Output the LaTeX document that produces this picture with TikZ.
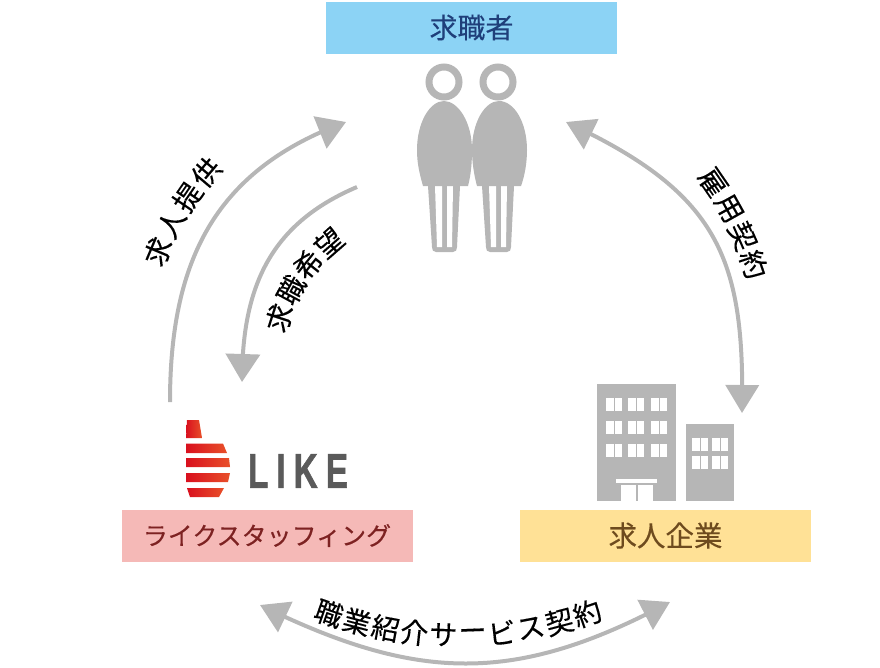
\documentclass[tikz,border=0pt]{standalone}
\usepackage{fontspec}
\setmainfont[FakeBold=0.25]{Noto Sans CJK JP}
\newfontfamily\logofont[LetterSpace=24,FakeBold=1.5]{Liberation Sans Bold}
\usetikzlibrary{arrows.meta,bending}
\definecolor{seekerblue}{HTML}{8CD3F5}
\definecolor{seekerink}{HTML}{1F3F7A}
\definecolor{likepink}{HTML}{F5B9B7}
\definecolor{likeink}{HTML}{7D2222}
\definecolor{firmyellow}{HTML}{FFE196}
\definecolor{firmink}{HTML}{6E4B1E}
\definecolor{icongray}{HTML}{B6B6B6}
\definecolor{logogray}{HTML}{5A5A5A}
\definecolor{logored}{HTML}{D9101E}
\definecolor{logoorange}{HTML}{E8502A}
\tikzstyle{titlebox}=[minimum width=291pt,minimum height=52pt,inner sep=0pt]
\tikzstyle{flow}=[draw=icongray,line width=4pt,{Triangle[length=28pt,width=34pt,flex]}-]
\tikzstyle{flowboth}=[draw=icongray,line width=4pt,{Triangle[length=28pt,width=33pt,flex]}-{Triangle[length=28pt,width=33pt,flex]}]
\tikzstyle{glyph}=[inner sep=0pt,font=\fontsize{28}{28}\selectfont]
\tikzstyle{stripe}=[left color=logored,right color=logoorange,draw=none]
\begin{document}
\begin{tikzpicture}[x=1pt,y=-1pt]
\useasboundingbox (0,0) rectangle (880,667);

% title boxes
\node (seeker) [titlebox,fill=seekerblue,text=seekerink,font=\fontsize{28}{28}\selectfont] at (471.5,27.5) {求職者};
\node (staffing) [titlebox,fill=likepink,text=likeink,font=\fontsize{25}{25}\selectfont] at (267,535.5) {ライクスタッフィング};
\node (firm) [titlebox,fill=firmyellow,text=firmink,font=\fontsize{28.5}{28.5}\selectfont] at (665.5,535.5) {求人企業};

% free ends of the arrows
\coordinate (offerstart) at (170,402);
\coordinate (offerend) at (346,122);
\coordinate (wishstart) at (357,187);
\coordinate (wishend) at (242,382);
\coordinate (hiretop) at (566,122);
\coordinate (hirebottom) at (742,413);
\coordinate (dealleft) at (260,605);
\coordinate (dealright) at (670,602);

\draw [flow] (offerend) .. controls (214,170) and (170,262) .. (offerstart);
\draw [flow] (wishend) .. controls (242,287) and (270,224) .. (wishstart);
\draw [flowboth] (hiretop) .. controls (719,193) and (745,258) .. (hirebottom);
\draw [flowboth] (dealleft) .. controls (417,682) and (515,685) .. (dealright);

% curved labels
\foreach \c [count=\i] in {求,人,提,供}
    \node (offer\i) [glyph,rotate={270-(197+\i*5.8)}] at ({440+306*cos(197+\i*5.8)},{370+306*sin(197+\i*5.8)}) {\c};
\foreach \c [count=\i] in {求,職,希,望}
    \node (wish\i) [glyph,rotate={270-(187.7+\i*10.3)}] at ({440+169*cos(187.7+\i*10.3)},{370+169*sin(187.7+\i*10.3)}) {\c};
\foreach \c [count=\i] in {雇,用,契,約}
    \node (hire\i) [glyph,rotate={270-(320.2+\i*5.3)}] at ({440+331*cos(320.2+\i*5.3)},{370+331*sin(320.2+\i*5.3)}) {\c};
\foreach \c [count=\i] in {職,業,紹,介,サ,ー,ビ,ス,契,約}
    \node (deal\i) [glyph,rotate={90-(113.2-\i*4.22)}] at ({458+397*cos(113.2-\i*4.22)},{238+397*sin(113.2-\i*4.22)}) {\c};

% two people
\foreach \dx/\name in {0/left,54/right} {
    \node (head\name) [circle,draw=icongray,line width=7pt,minimum size=30pt,inner sep=0pt] at (444+\dx,82) {};
    \fill [icongray] (428+\dx,186) -- (460+\dx,186) -- (457+\dx,247)
        .. controls (457+\dx,250) and (456+\dx,252) .. (453+\dx,252) -- (436+\dx,252)
        .. controls (433+\dx,252) and (432+\dx,250) .. (432+\dx,247) -- cycle;
    \fill [white] (435+\dx,186) -- (442+\dx,186) -- (442+\dx,247) -- (437+\dx,247) -- cycle;
    \fill [white] (447+\dx,186) -- (453+\dx,186) -- (452+\dx,247) -- (447+\dx,247) -- cycle;
}
\fill [icongray] (423,186) .. controls (419,172) and (417,162) .. (417,150)
    .. controls (417,122) and (430,101) .. (444,101)
    .. controls (458,101) and (472,122) .. (472,150)
    .. controls (472,162) and (471,175) .. (468,186) -- cycle;
\fill [icongray] (477,186) .. controls (474,175) and (472,162) .. (472,150)
    .. controls (472,122) and (485,101) .. (499,101)
    .. controls (514,101) and (527,122) .. (527,150)
    .. controls (527,162) and (525,175) .. (521,186) -- cycle;

% buildings
\fill [icongray] (597,384) rectangle (676,501);
\fill [icongray] (686,424) rectangle (734,501);
\foreach \wx in {606,628,651}
    \foreach \wy in {398,421,444} {
        \fill [white] (\wx,\wy) rectangle ++(7.5,13);
        \fill [white] (\wx+8.5,\wy) rectangle ++(7.5,13);
    }
\foreach \wx in {692,712}
    \foreach \wy in {438,456} {
        \fill [white] (\wx,\wy) rectangle ++(7.5,13);
        \fill [white] (\wx+8.5,\wy) rectangle ++(7.5,13);
    }
\fill [white] (616,479) rectangle (657,483);
\fill [white] (621,485) rectangle (636,501);
\fill [white] (638,485) rectangle (653,501);

% logo
\shade [stripe] (187,420) -- (199,420) -- (202,438) -- (186,438) -- cycle;
\shade [stripe] (186,443.5) -- (223,443.5) -- (227,453) -- (186,453) -- cycle;
\shade [stripe] (186,458) -- (229,458) -- (230,467) -- (186,467) -- cycle;
\shade [stripe] (186,473) -- (230,473) -- (228,482) -- (186,482) -- cycle;
\shade [stripe] (187,488) -- (224,488) -- (219,497) -- (190,497) -- cycle;
\node (logotext) [anchor=west,inner sep=0pt,text=logogray,xscale=0.68,font=\fontsize{49}{49}\logofont] at (248,471) {LIKE};
\end{tikzpicture}
\end{document}
